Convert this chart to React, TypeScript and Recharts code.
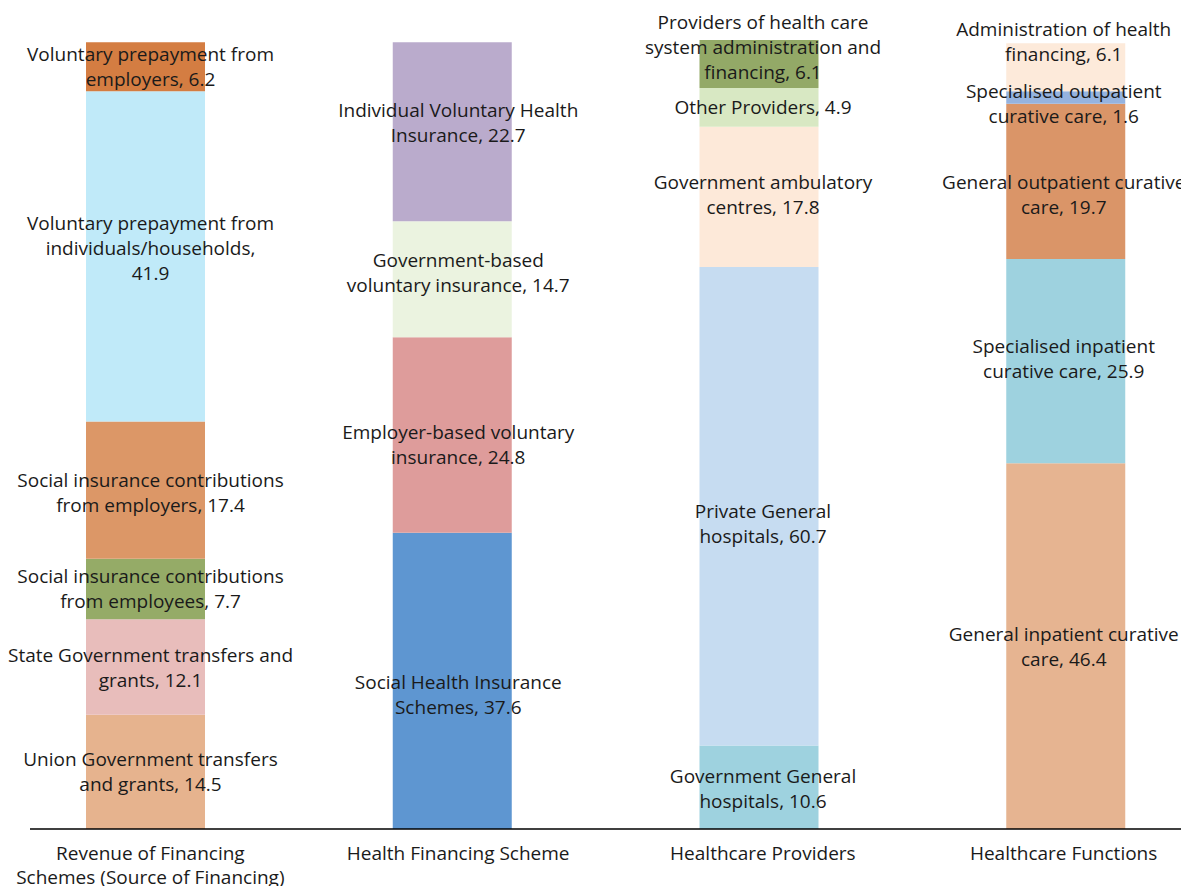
import React from 'react';
import { BarChart, Bar, XAxis, YAxis, LabelList } from 'recharts';

// categories on the x axis ("\n" = line break in the tick)
const categories = [
  'Revenue of Financing\nSchemes (Source of Financing)',
  'Health Financing Scheme',
  'Healthcare Providers',
  'Healthcare Functions',
];

// segments bottom -> top; a trailing "\n" puts the value on its own line
const revenueNames = [
  'Union Government transfers\nand grants',
  'State Government transfers and\ngrants',
  'Social insurance contributions\nfrom employees',
  'Social insurance contributions\nfrom employers',
  'Voluntary prepayment from\nindividuals/households\n',
  'Voluntary prepayment from\nemployers',
];
const revenueValues = [14.5, 12.1, 7.7, 17.4, 41.9, 6.2];

const schemeNames = [
  'Social Health Insurance\nSchemes',
  'Employer-based voluntary\ninsurance',
  'Government-based\nvoluntary insurance',
  'Individual Voluntary Health\nInsurance',
];
const schemeValues = [37.6, 24.8, 14.7, 22.7];

const providerNames = [
  'Government General\nhospitals',
  'Private General\nhospitals',
  'Government ambulatory\ncentres',
  'Other Providers',
  'Providers of health care\nsystem administration and\nfinancing',
];
const providerValues = [10.6, 60.7, 17.8, 4.9, 6.1];

const functionNames = [
  'General inpatient curative\ncare',
  'Specialised inpatient\ncurative care',
  'General outpatient curative\ncare',
  'Specialised outpatient\ncurative care',
  'Administration of health\nfinancing',
];
const functionValues = [46.4, 25.9, 19.7, 1.6, 6.1];

const columns = [
  { names: revenueNames, values: revenueValues, colors: ['#E6B38E', '#E8BDBB', '#95AB67', '#DC9767', '#C0EAF9', '#D47D42'] },
  { names: schemeNames, values: schemeValues, colors: ['#5E96D1', '#DE9C9B', '#EBF3E0', '#BAABCC'] },
  { names: providerNames, values: providerValues, colors: ['#9ED2DF', '#C6DCF1', '#FDE9D9', '#D8E8C3', '#93A967'] },
  { names: functionNames, values: functionValues, colors: ['#E6B491', '#9ED2DF', '#DA9568', '#95B3DF', '#FDEADA'] },
];

// small nudges of the data labels (px), like the hand-placed ones in the original
const labelNudge = [
  [0, 0, 0, 2, -8, 0],
  [14, 10, -7, -9],
  [1, 17, -2, 0, -17],
  [0, -3, 13, 6, -26],
];
const labelShiftX = [5, 6, 4, -2];

const FONT = '"Open Sans", sans-serif';
const FONT_SIZE = 19;
const LINE_H = 25;

const data = categories.map((category, i) => {
  const row: Record<string, any> = { category };
  columns[i].values.forEach((v, j) => {
    row[`c${i}_${j}`] = v;
  });
  return row;
});

const labelText = (name: string, v: number) =>
  name.endsWith('\n') ? `${name.slice(0, -1)},\n${v}` : `${name}, ${v}`;

const makeLabel = (i: number, j: number) => (props: any) => {
  const { x, y, width, height, value } = props;
  if (value == null || !height) return null;
  const lines = labelText(columns[i].names[j], value).split('\n');
  const cx = Number(x) + Number(width) / 2 + labelShiftX[i];
  const cy = Number(y) + Number(height) / 2 + labelNudge[i][j];
  const y0 = cy - ((lines.length - 1) * LINE_H) / 2;
  return (
    <text x={cx} y={y0} textAnchor="middle" dominantBaseline="central" fontFamily={FONT} fontSize={FONT_SIZE} fill="#1a1a1a">
      {lines.map((l, k) => (
        <tspan key={k} x={cx} y={y0 + k * LINE_H}>
          {l}
        </tspan>
      ))}
    </text>
  );
};

const CategoryTick = (props: any) => {
  const { x, y, payload, index } = props;
  const lines = String(payload.value).split('\n');
  const tx = x + labelShiftX[index];
  return (
    <text x={tx} y={y} textAnchor="middle" fontFamily={FONT} fontSize={FONT_SIZE} fill="#1a1a1a">
      {lines.map((l, k) => (
        <tspan key={k} x={tx} y={y + 24 + k * 24} dominantBaseline="central">
          {l}
        </tspan>
      ))}
    </text>
  );
};

export default function App() {
  return (
    <div style={{ position: 'absolute', left: 0, top: 0, width: 1181, height: 886, overflow: 'hidden', background: '#fff' }}>
      <BarChart width={1181} height={886} data={data} margin={{ top: 40, right: 0, left: 30, bottom: 7 }}>
        <XAxis
          dataKey="category"
          interval={0}
          height={50}
          tickLine={false}
          axisLine={{ stroke: '#000', strokeWidth: 1.5 }}
          padding={{ left: -38, right: -38 }}
          tick={<CategoryTick />}
          tickMargin={0}
          tickSize={0}
        />
        <YAxis hide domain={[0, 100]} />
        {columns.map((col, i) =>
          col.values.map((_, j) => (
            <Bar
              key={`c${i}_${j}`}
              dataKey={`c${i}_${j}`}
              stackId="a"
              fill={col.colors[j]}
              barSize={119}
              isAnimationActive={false}
            >
              <LabelList dataKey={`c${i}_${j}`} content={makeLabel(i, j)} />
            </Bar>
          ))
        )}
      </BarChart>
    </div>
  );
}
